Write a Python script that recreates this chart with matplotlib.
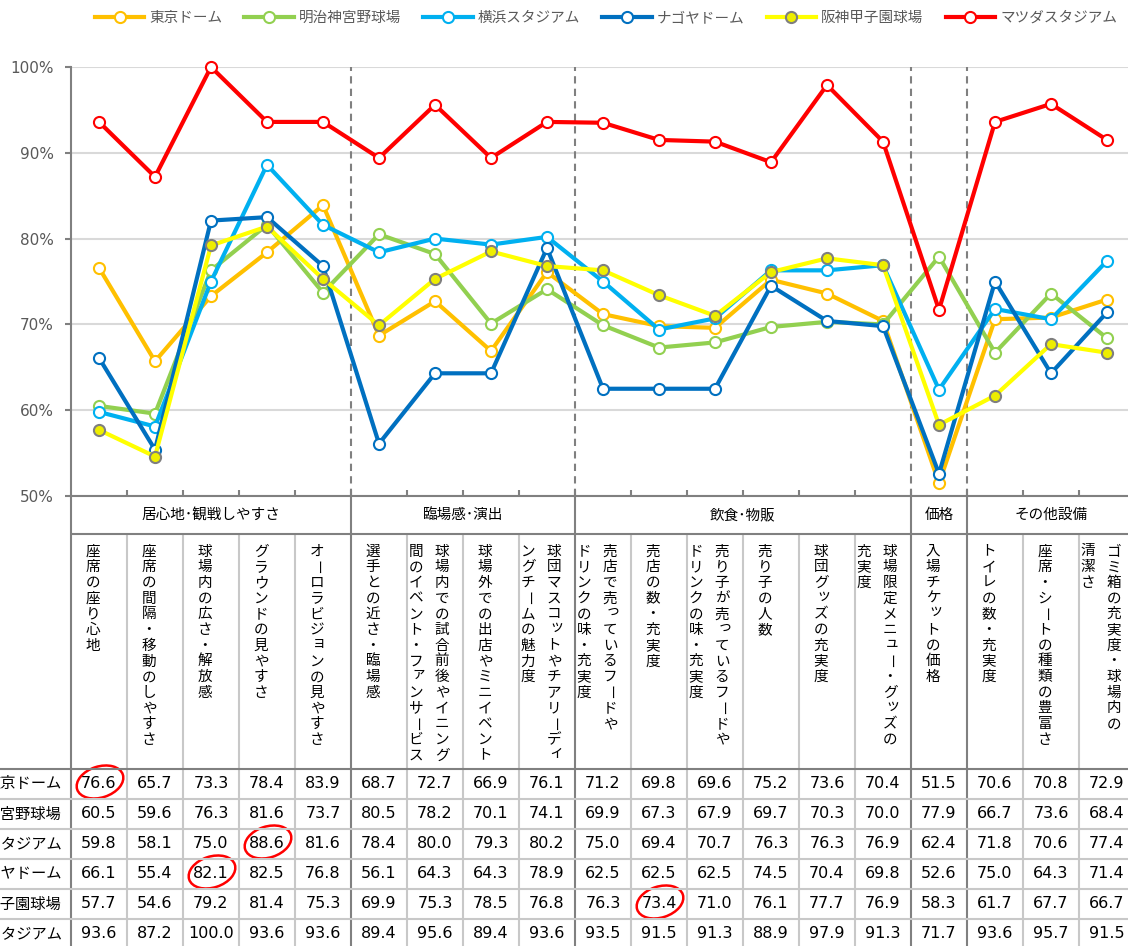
import numpy as np
import matplotlib.pyplot as plt
from matplotlib.patches import Ellipse

plt.rcParams['font.family'] = ['Noto Sans CJK JP', 'DejaVu Sans']

# データ
stadiums = ['東京ドーム', '明治神宮野球場', '横浜スタジアム', 'ナゴヤドーム', '阪神甲子園球場', 'マツダスタジアム']
colors = ['#FFC000', '#92D050', '#00B0F0', '#0070C0', '#FFFF00', '#FF0000']

categories = [
    '座席の座り心地',
    '座席の間隔・移動のしやすさ',
    '球場内の広さ・解放感',
    'グラウンドの見やすさ',
    'オーロラビジョンの見やすさ',
    '選手との近さ・臨場感',
    '球場内での試合前後やイニング\n間のイベント・ファンサービス',
    '球場外での出店やミニイベント',
    '球団マスコットやチアリーディ\nングチームの魅力度',
    '売店で売っているフードや\nドリンクの味・充実度',
    '売店の数・充実度',
    '売り子が売っているフードや\nドリンクの味・充実度',
    '売り子の人数',
    '球団グッズの充実度',
    '球場限定メニュー・グッズの\n充実度',
    '入場チケットの価格',
    'トイレの数・充実度',
    '座席・シートの種類の豊富さ',
    'ゴミ箱の充実度・球場内の\n清潔さ',
]
groups = ['居心地･観戦しやすさ', '臨場感･演出', '飲食･物販', '価格', 'その他設備']
group_sizes = [5, 4, 6, 1, 3]

tokyo    = [76.6, 65.7, 73.3, 78.4, 83.9, 68.7, 72.7, 66.9, 76.1, 71.2, 69.8, 69.6, 75.2, 73.6, 70.4, 51.5, 70.6, 70.8, 72.9]
meiji    = [60.5, 59.6, 76.3, 81.6, 73.7, 80.5, 78.2, 70.1, 74.1, 69.9, 67.3, 67.9, 69.7, 70.3, 70.0, 77.9, 66.7, 73.6, 68.4]
yokohama = [59.8, 58.1, 75.0, 88.6, 81.6, 78.4, 80.0, 79.3, 80.2, 75.0, 69.4, 70.7, 76.3, 76.3, 76.9, 62.4, 71.8, 70.6, 77.4]
nagoya   = [66.1, 55.4, 82.1, 82.5, 76.8, 56.1, 64.3, 64.3, 78.9, 62.5, 62.5, 62.5, 74.5, 70.4, 69.8, 52.6, 75.0, 64.3, 71.4]
koshien  = [57.7, 54.6, 79.2, 81.4, 75.3, 69.9, 75.3, 78.5, 76.8, 76.3, 73.4, 71.0, 76.1, 77.7, 76.9, 58.3, 61.7, 67.7, 66.7]
mazda    = [93.6, 87.2, 100.0, 93.6, 93.6, 89.4, 95.6, 89.4, 93.6, 93.5, 91.5, 91.3, 88.9, 97.9, 91.3, 71.7, 93.6, 95.7, 91.5]
values = [tokyo, meiji, yokohama, nagoya, koshien, mazda]

# 赤丸で囲む値 (行, 列)
highlight = [(0, 0), (3, 2), (2, 3), (4, 10)]

W, H = 1128, 946
fig = plt.figure(figsize=(W / 100, H / 100), dpi=100)


def px_axes(l, t, r, b):
    return fig.add_axes([l / W, 1 - b / H, (r - l) / W, (b - t) / H])


n = len(categories)
col_w = 56
L = 71
R = L + n * col_w
dark = '#808080'
light = '#C8C8C8'

# 折れ線グラフ
ax = px_axes(L, 67, R, 496)
x = np.arange(n)
for vals, name, c in zip(values, stadiums, colors):
    if name == '阪神甲子園球場':
        mfc, mec = '#EEEE00', '#7F7F7F'
    else:
        mfc, mec = 'white', c
    ax.plot(x, vals, color=c, lw=3, marker='o', ms=8, mfc=mfc, mec=mec,
            mew=1.5, label=name, clip_on=False)

ax.set_xlim(-0.5, n - 0.5)
ax.set_ylim(50, 100)
yt = np.arange(50, 101, 10)
ax.set_yticks(yt)
ax.set_yticklabels([f'{v}%' for v in yt], family='DejaVu Sans')
ax.set_xticks(np.arange(1, n) - 0.5)
ax.tick_params(axis='x', direction='in', length=4, width=1.5, color=dark, labelbottom=False)
ax.tick_params(axis='y', direction='out', length=4.5, width=1.5, color=dark,
               labelcolor='#595959', labelsize=11, pad=8)
ax.yaxis.grid(True, color='#D9D9D9', lw=1.5)
ax.set_axisbelow(True)
for s in ['top', 'right']:
    ax.spines[s].set_visible(False)
for s in ['left', 'bottom']:
    ax.spines[s].set_color(dark)
    ax.spines[s].set_linewidth(1.5)

bounds = np.cumsum(group_sizes)
for b in bounds[:-1]:
    ax.axvline(b - 0.5, color=dark, lw=1.5, ls=(0, (3.5, 2.5)), zorder=1)

fig.legend(loc='center', bbox_to_anchor=(606 / W, 1 - 18 / H), ncol=6, frameon=False,
           fontsize=10.5, handlelength=3.4, handletextpad=0.35, columnspacing=1.5,
           labelcolor='#595959')

# 表
tab = px_axes(L, 496, R, 960)
tab.set_xlim(0, R - L)
tab.set_ylim(960, 496)
tab.axis('off')

row_top = 769
row_h = 30
kw = dict(clip_on=False, solid_capstyle='butt')
for k in range(n + 1):
    xx = k * col_w
    is_dark = k == 0 or k in bounds
    tab.plot([xx, xx], [534, 960], color=dark if is_dark else light, lw=1.5, **kw)
    if is_dark:
        tab.plot([xx, xx], [496, 534], color=dark, lw=1.5, **kw)
tab.plot([0, R - L], [534, 534], color=dark, lw=1.5, **kw)
for r in range(1, len(stadiums)):
    yy = row_top + r * row_h
    tab.plot([-80, R - L], [yy, yy], color=light, lw=1.5, **kw)
tab.plot([-80, R - L], [row_top, row_top], color=dark, lw=1.5, **kw)

# 分類見出し
start = 0
for g, s in zip(groups, group_sizes):
    tab.text((start + s / 2) * col_w, 515, g, ha='center', va='center', fontsize=10.5)
    start += s

# 縦書きの項目名
small = set('ッャュョィァェォっゃゅょぃ')
for i, cat in enumerate(categories):
    lines = cat.split('\n')
    xc = (i + 0.5) * col_w - 6
    if len(lines) == 1:
        xs = [xc]
    else:
        xs = [xc + 13, xc - 13]
    for xl, line in zip(xs, lines):
        for j, ch in enumerate(line):
            yc = 551.5 + j * 15.7
            if ch == 'ー':
                tab.text(xl, yc, ch, ha='center', va='center', fontsize=10.5,
                         rotation=-90, rotation_mode='anchor')
            elif ch in small:
                tab.text(xl + 2.5, yc - 3, ch, ha='center', va='center', fontsize=10.5)
            else:
                tab.text(xl, yc, ch, ha='center', va='center', fontsize=10.5)

# 数値
for r, (name, vals) in enumerate(zip(stadiums, values)):
    yc = row_top + row_h / 2 + r * row_h
    tab.text(-9, yc, name, ha='right', va='center', fontsize=11, clip_on=False)
    for i, v in enumerate(vals):
        tab.text((i + 0.5) * col_w, yc, f'{v:.1f}', ha='center', va='center',
                 fontsize=11.5, family='DejaVu Sans')

for r, c in highlight:
    yc = row_top + row_h / 2 + r * row_h
    tab.add_patch(Ellipse(((c + 0.5) * col_w + 1, yc - 2), 48, 31, angle=-18,
                          fill=False, ec='#FF0000', lw=1.8, clip_on=False))

plt.savefig('out.png', dpi=100)
